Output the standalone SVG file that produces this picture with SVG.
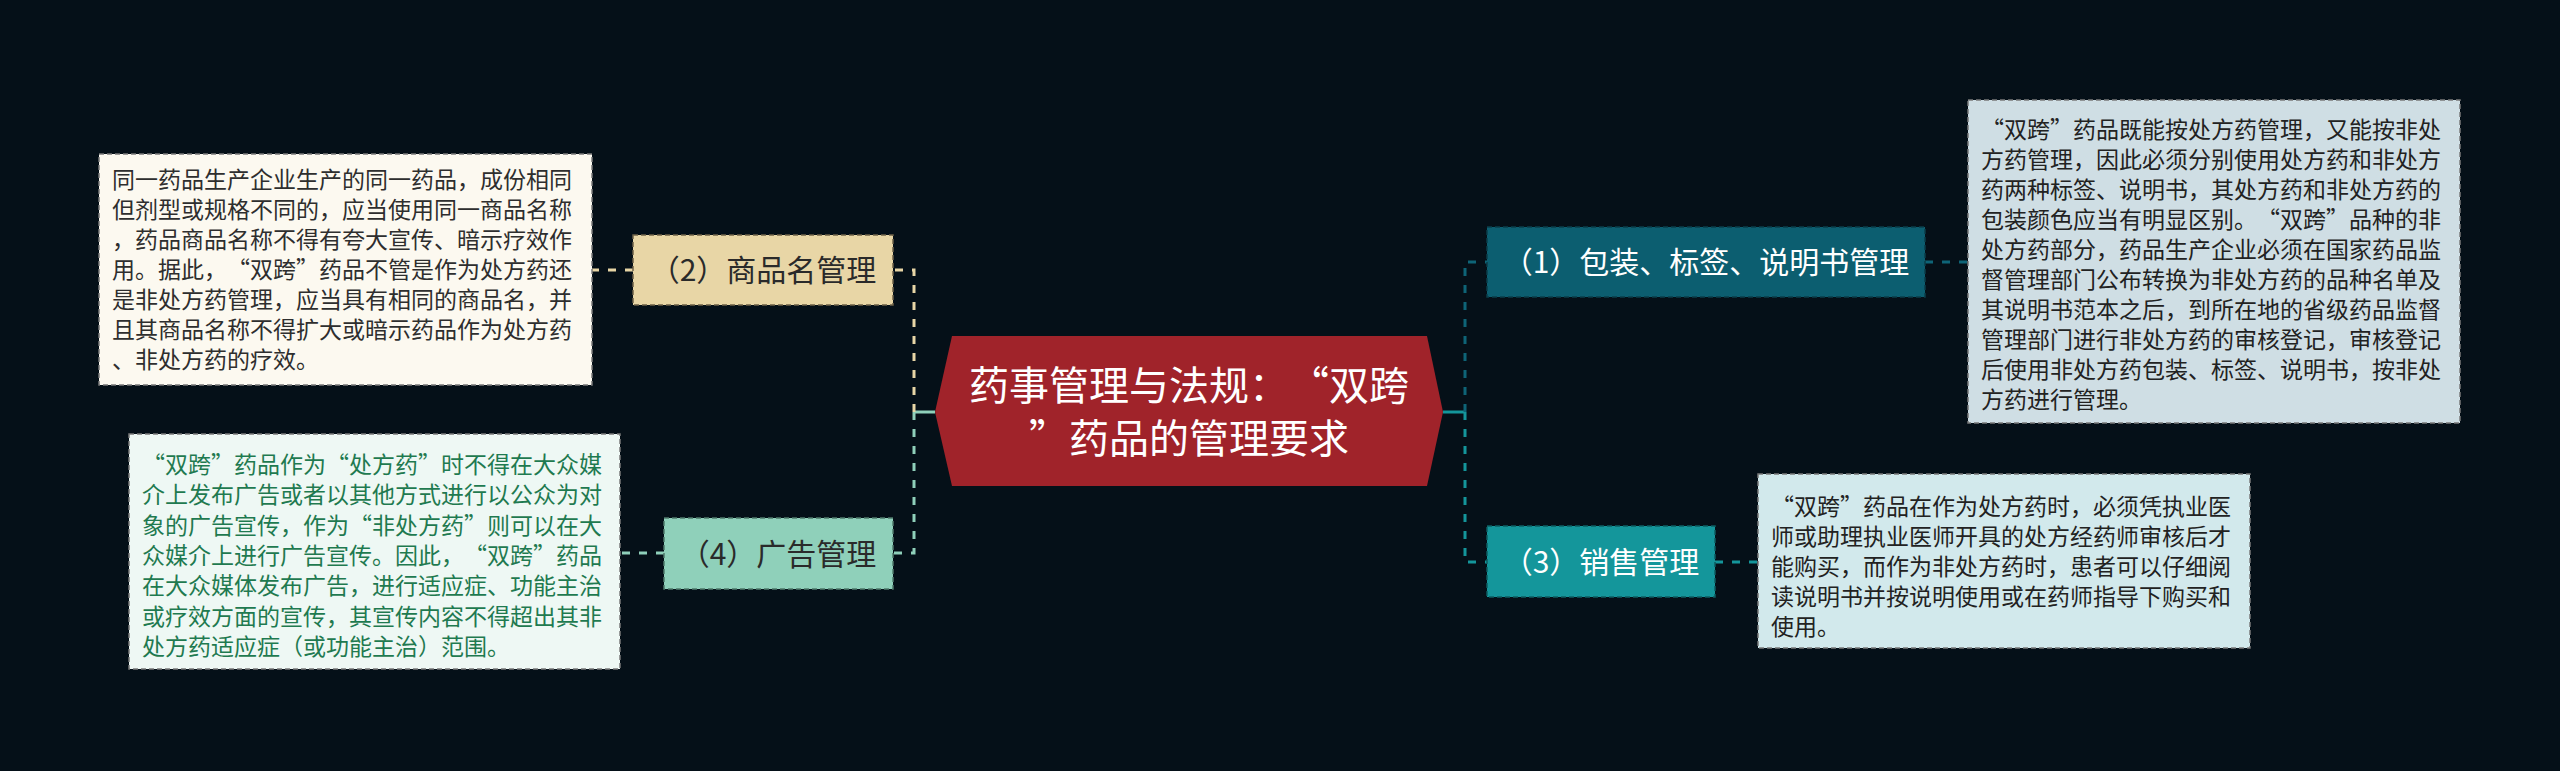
<svg xmlns="http://www.w3.org/2000/svg" width="2560" height="771" viewBox="0 0 2560 771">
<style>
.bg{fill:#051018}
.t{font-family:"Noto Sans CJK SC","Noto Sans",sans-serif;text-spacing-trim:space-all}
.title{font-size:40px;fill:#ffffff;text-anchor:middle}
.lbl{font-size:30px;text-anchor:middle}
.desc{font-size:23px}
.nb{stroke-width:1.5;stroke-dasharray:5 3}
.db{stroke:#7a7a7a;stroke-width:1.5;stroke-dasharray:5 3}
.c{fill:none;stroke-width:3}
.dash{stroke-dasharray:8 9}
</style>
<rect class="bg" x="0" y="0" width="2560" height="771"/>

<g id="connectors">
  <line class="c" x1="935" y1="412" x2="914" y2="412" stroke="#8fd0ba"/>
  <path class="c dash" d="M914 412 V270 H893" stroke="#e8d6a6"/>
  <path class="c dash" d="M914 412 V553 H893" stroke="#8fd0ba"/>
  <line class="c dash" x1="633" y1="270" x2="592" y2="270" stroke="#e8d6a6"/>
  <line class="c dash" x1="664" y1="553" x2="620" y2="553" stroke="#8fd0ba"/>
  <line class="c" x1="1443" y1="412" x2="1465" y2="412" stroke="#14969b"/>
  <path class="c dash" d="M1465 412 V262 H1487" stroke="#0e6477"/>
  <path class="c dash" d="M1465 412 V562 H1487" stroke="#14969b"/>
  <line class="c dash" x1="1925" y1="262" x2="1968" y2="262" stroke="#0e6477"/>
  <line class="c dash" x1="1715" y1="562" x2="1758" y2="562" stroke="#14969b"/>
</g>

<g id="center">
  <polygon points="952,336 1427,336 1443,412 1427,486 952,486 935,412" fill="#a0232a"/>
  <text class="t title" x="1189" y="400">药事管理与法规：“双跨</text>
  <text class="t title" x="1189" y="453">”药品的管理要求</text>
</g>

<g id="node-2">
  <rect class="nb" x="633" y="235" width="260" height="70" fill="#e8d6a6" stroke="#6e6148"/>
  <text class="t lbl" x="763" y="281" fill="#2a2a2a">（2）商品名管理</text>
</g>

<g id="node-4">
  <rect class="nb" x="664" y="518" width="229" height="71" fill="#8fd0ba" stroke="#4f7a6b"/>
  <text class="t lbl" x="778" y="565" fill="#2a2a2a">（4）广告管理</text>
</g>

<g id="node-1">
  <rect class="nb" x="1487" y="227" width="438" height="70" fill="#0c5e70" stroke="#0a3e4a"/>
  <text class="t lbl" x="1706" y="273" fill="#ffffff">（1）包装、标签、说明书管理</text>
</g>

<g id="node-3">
  <rect class="nb" x="1487" y="526" width="228" height="71" fill="#14969b" stroke="#0d5d61"/>
  <text class="t lbl" x="1601" y="573" fill="#ffffff">（3）销售管理</text>
</g>

<g id="desc-2">
  <rect class="db" x="99" y="154" width="493" height="231" fill="#fcf9f0"/>
  <text class="t desc" fill="#2e2e2e">
    <tspan x="112" y="188">同一药品生产企业生产的同一药品，成份相同</tspan>
    <tspan x="112" y="218">但剂型或规格不同的，应当使用同一商品名称</tspan>
    <tspan x="112" y="248">，药品商品名称不得有夸大宣传、暗示疗效作</tspan>
    <tspan x="112" y="278">用。据此，“双跨”药品不管是作为处方药还</tspan>
    <tspan x="112" y="308">是非处方药管理，应当具有相同的商品名，并</tspan>
    <tspan x="112" y="338">且其商品名称不得扩大或暗示药品作为处方药</tspan>
    <tspan x="112" y="368">、非处方药的疗效。</tspan>
  </text>
</g>

<g id="desc-4">
  <rect class="db" x="129" y="434" width="491" height="235" fill="#eef8f4"/>
  <text class="t desc" fill="#1f7a50">
    <tspan x="142" y="473">“双跨”药品作为“处方药”时不得在大众媒</tspan>
    <tspan x="142" y="503">介上发布广告或者以其他方式进行以公众为对</tspan>
    <tspan x="142" y="534">象的广告宣传，作为“非处方药”则可以在大</tspan>
    <tspan x="142" y="564">众媒介上进行广告宣传。因此，“双跨”药品</tspan>
    <tspan x="142" y="594">在大众媒体发布广告，进行适应症、功能主治</tspan>
    <tspan x="142" y="625">或疗效方面的宣传，其宣传内容不得超出其非</tspan>
    <tspan x="142" y="655">处方药适应症（或功能主治）范围。</tspan>
  </text>
</g>

<g id="desc-1">
  <rect class="db" x="1968" y="100" width="492" height="323" fill="#cfdee4"/>
  <text class="t desc" fill="#222222">
    <tspan x="1981" y="138">“双跨”药品既能按处方药管理，又能按非处</tspan>
    <tspan x="1981" y="168">方药管理，因此必须分别使用处方药和非处方</tspan>
    <tspan x="1981" y="198">药两种标签、说明书，其处方药和非处方药的</tspan>
    <tspan x="1981" y="228">包装颜色应当有明显区别。“双跨”品种的非</tspan>
    <tspan x="1981" y="258">处方药部分，药品生产企业必须在国家药品监</tspan>
    <tspan x="1981" y="288">督管理部门公布转换为非处方药的品种名单及</tspan>
    <tspan x="1981" y="318">其说明书范本之后，到所在地的省级药品监督</tspan>
    <tspan x="1981" y="348">管理部门进行非处方药的审核登记，审核登记</tspan>
    <tspan x="1981" y="378">后使用非处方药包装、标签、说明书，按非处</tspan>
    <tspan x="1981" y="408">方药进行管理。</tspan>
  </text>
</g>

<g id="desc-3">
  <rect class="db" x="1758" y="474" width="492" height="174" fill="#d2e9ec"/>
  <text class="t desc" fill="#222222">
    <tspan x="1771" y="515">“双跨”药品在作为处方药时，必须凭执业医</tspan>
    <tspan x="1771" y="545">师或助理执业医师开具的处方经药师审核后才</tspan>
    <tspan x="1771" y="575">能购买，而作为非处方药时，患者可以仔细阅</tspan>
    <tspan x="1771" y="605">读说明书并按说明使用或在药师指导下购买和</tspan>
    <tspan x="1771" y="635">使用。</tspan>
  </text>
</g>
</svg>
